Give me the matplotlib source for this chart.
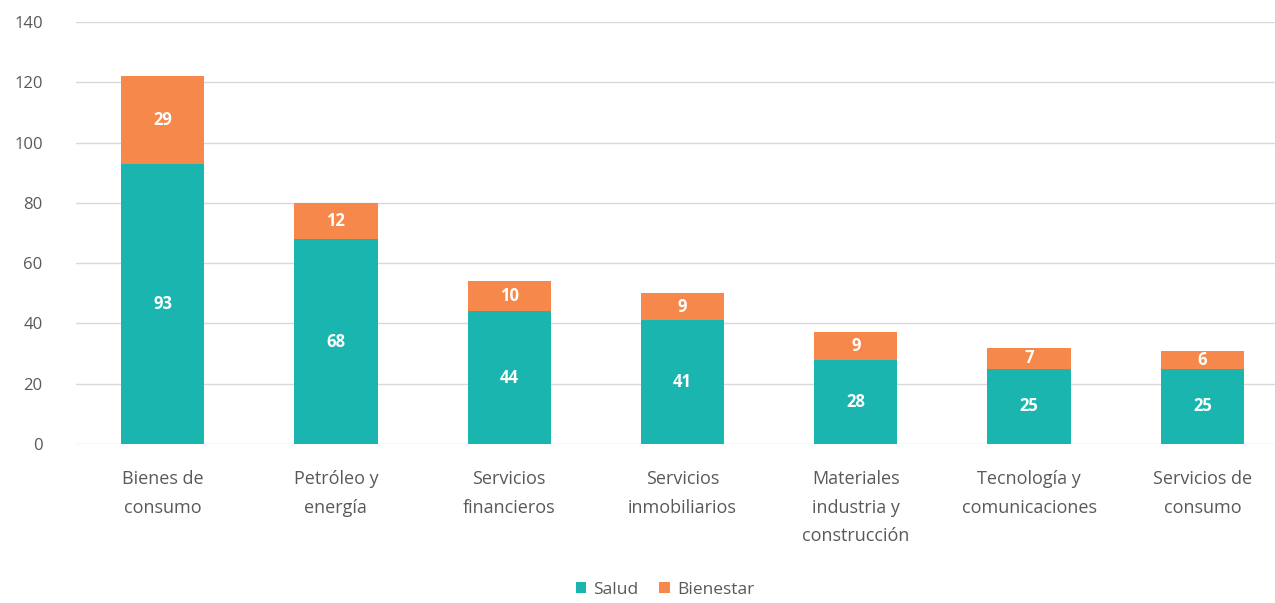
import matplotlib
matplotlib.use("Agg")
import matplotlib.pyplot as plt
import numpy as np

categories = ["Bienes de\nconsumo", "Petróleo y\nenergía", "Servicios\nfinancieros",
              "Servicios\ninmobiliarios", "Materiales\nindustria y\nconstrucción",
              "Tecnología y\ncomunicaciones", "Servicios de\nconsumo"]
salud = [93, 68, 44, 41, 28, 25, 25]
bienestar = [29, 12, 10, 9, 9, 7, 6]
yticks = [0, 20, 40, 60, 80, 100, 120, 140]

c_salud = "#1BB5B0"
c_bien = "#F5884A"
gray = "#595959"

plt.rcParams['font.family'] = ['Open Sans', 'DejaVu Sans']
fig = plt.figure(figsize=(12.75, 6.03), dpi=100)
ax = fig.add_axes([76/1275, 159/603, 1213/1275, 422/603])

x = np.arange(len(categories))
w = 0.48
b1 = ax.bar(x, salud, w, color=c_salud, label="Salud", zorder=3)
b2 = ax.bar(x, bienestar, w, bottom=salud, color=c_bien, label="Bienestar", zorder=3)

for xi, s, b in zip(x, salud, bienestar):
    ax.text(xi, s / 2, str(s), ha="center", va="center", color="white",
            fontsize=12, fontweight="bold", zorder=4)
    ax.text(xi, s + b / 2, str(b), ha="center", va="center", color="white",
            fontsize=12, fontweight="bold", zorder=4)

ax.set_xlim(-0.5, len(categories) - 0.5)
ax.set_ylim(0, 140)
ax.set_yticks(yticks)
ax.set_xticks(x)
ax.set_xticklabels(categories, fontsize=13, color=gray, linespacing=1.75)
ax.tick_params(axis="y", labelsize=12, colors=gray, length=0, pad=24)
ax.tick_params(axis="x", length=0, pad=19)
ax.grid(axis="y", color="#D9D9D9", linewidth=1, zorder=0)
for s in ax.spines.values():
    s.set_visible(False)

fig.legend(handles=[b1, b2], labels=["Salud", "Bienestar"], loc="center",
           bbox_to_anchor=(665/1275, 1 - 590/603), ncol=2, frameon=False,
           fontsize=12.5, labelcolor=gray, handlelength=0.6, handleheight=0.6,
           handletextpad=0.4, columnspacing=1.2)

fig.savefig("out.png", dpi=100)
